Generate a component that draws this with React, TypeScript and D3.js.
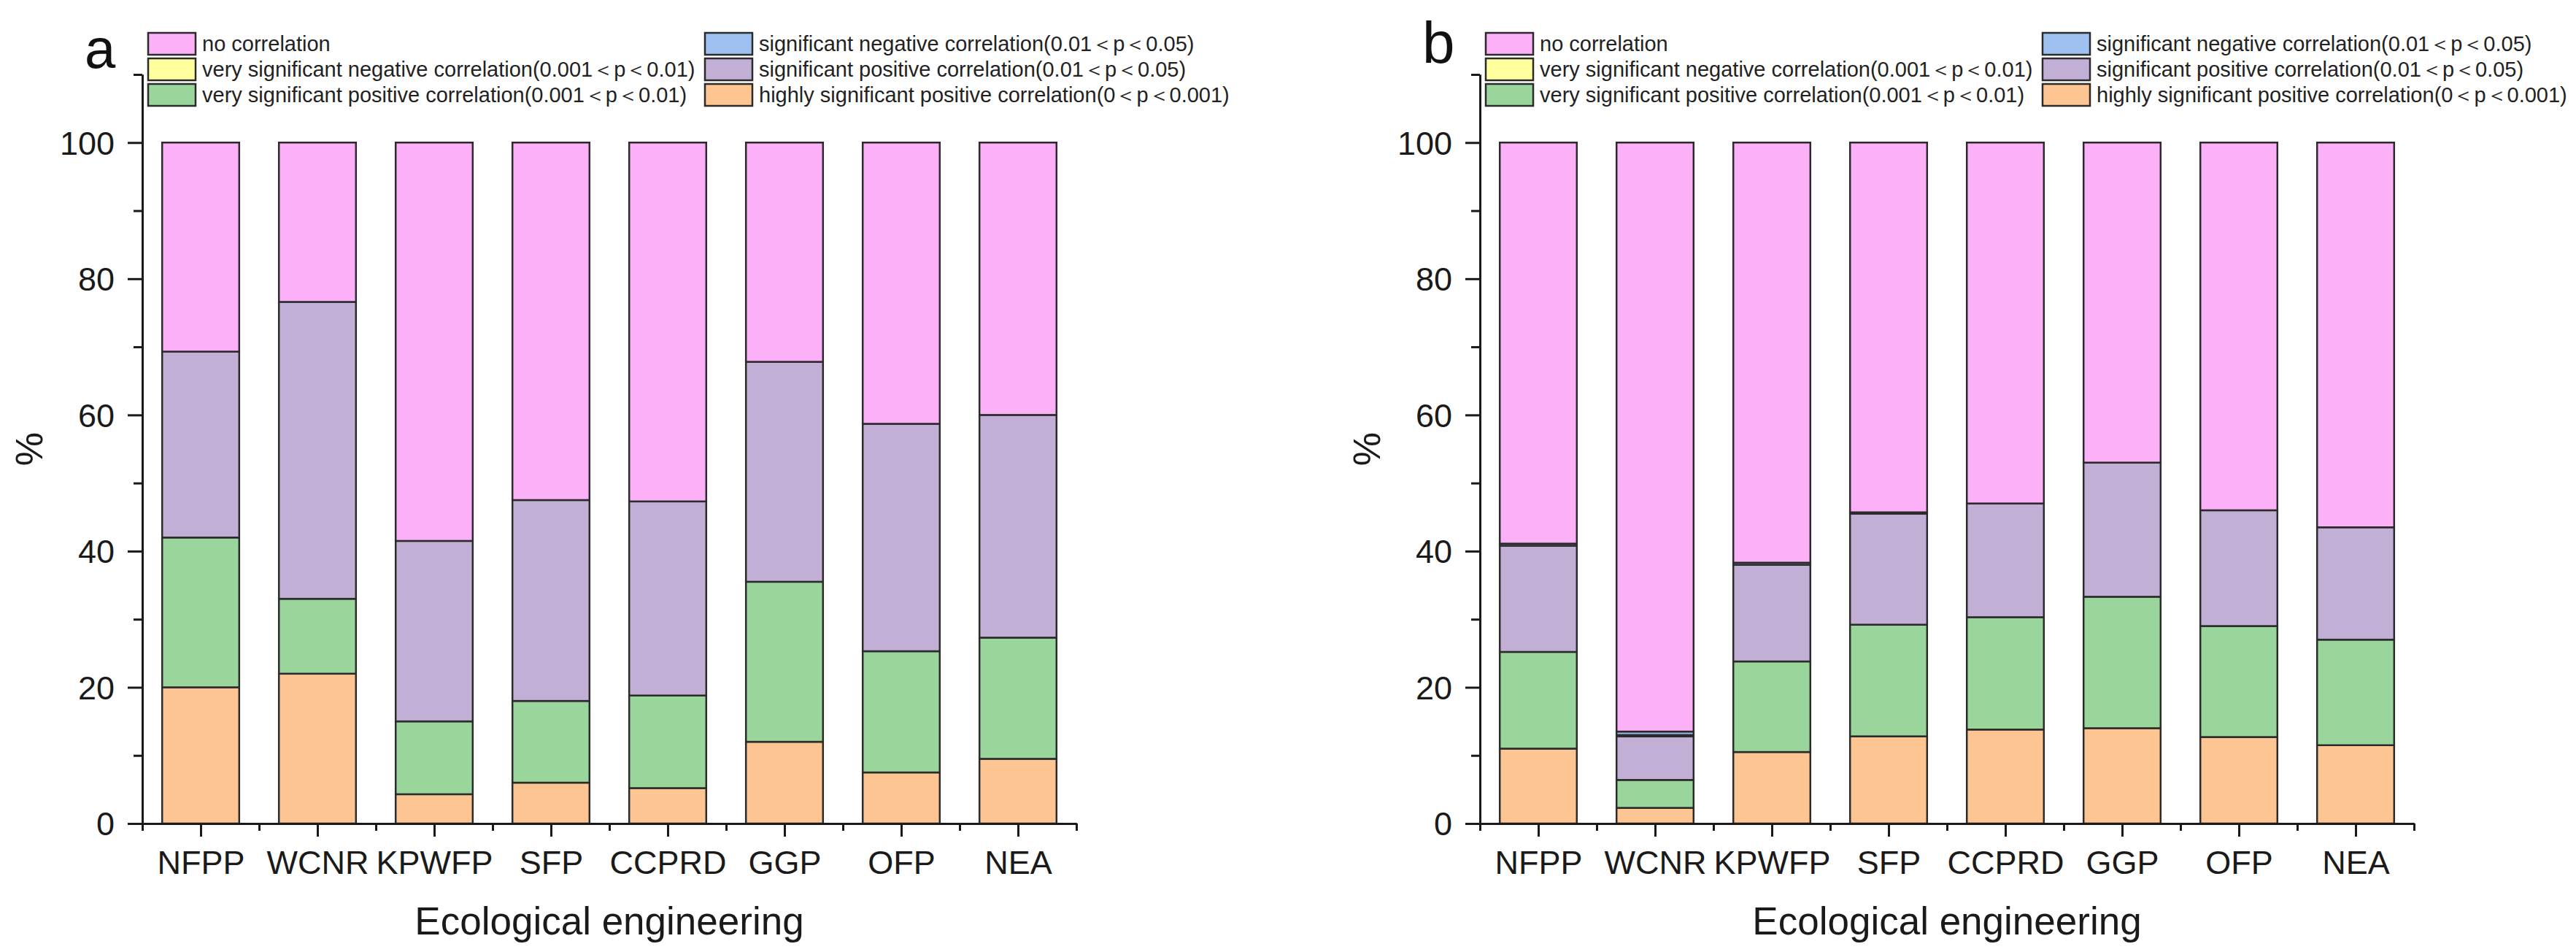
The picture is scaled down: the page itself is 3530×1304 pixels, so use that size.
import React, { useEffect, useRef } from 'react';
import * as d3 from 'd3';

const categories = ['NFPP', 'WCNR', 'KPWFP', 'SFP', 'CCPRD', 'GGP', 'OFP', 'NEA'];

// stacking order, bottom to top
const keys = ['hsp', 'vsp', 'sp', 'vsn', 'sn', 'nc'];

const colors: Record<string, string> = {
  nc: '#FBB0F8',
  vsn: '#FFFF9E',
  vsp: '#9AD69B',
  sn: '#9FC1F2',
  sp: '#C1AFD5',
  hsp: '#FDC592',
};

const legendCol1 = ['nc', 'vsn', 'vsp'];
const legendCol2 = ['sn', 'sp', 'hsp'];
const legendLabels: Record<string, string> = {
  nc: 'no correlation',
  vsn: 'very significant negative correlation(0.001＜p＜0.01)',
  vsp: 'very significant positive correlation(0.001＜p＜0.01)',
  sn: 'significant negative correlation(0.01＜p＜0.05)',
  sp: 'significant positive correlation(0.01＜p＜0.05)',
  hsp: 'highly significant positive correlation(0＜p＜0.001)',
};

const yMajorTicks = [0, 20, 40, 60, 80, 100];
const yMinorTicks = [10, 30, 50, 70, 90, 110];

// panel a (% of area per class)
const aHsp = [20, 22, 4.3, 6, 5.2, 12, 7.5, 9.5];
const aVsp = [22, 11, 10.7, 12, 13.6, 23.5, 17.8, 17.8];
const aSp = [27.3, 43.6, 26.5, 29.5, 28.5, 32.3, 33.4, 32.7];
const aVsn = [0, 0, 0, 0, 0, 0, 0, 0];
const aSn = [0, 0, 0, 0, 0, 0, 0, 0];
const aNc = [30.7, 23.4, 58.5, 52.5, 52.7, 32.2, 41.3, 40];

// panel b
const bHsp = [11, 2.3, 10.5, 12.8, 13.8, 14, 12.7, 11.5];
const bVsp = [14.2, 4.1, 13.3, 16.4, 16.5, 19.3, 16.3, 15.5];
const bSp = [15.6, 6.4, 14.2, 16.3, 16.7, 19.7, 17, 16.5];
const bVsn = [0, 0.2, 0, 0, 0, 0, 0, 0];
const bSn = [0.3, 0.5, 0.3, 0.2, 0, 0, 0, 0];
const bNc = [58.9, 86.5, 61.7, 54.3, 53, 47, 54, 56.5];

const font = '"Liberation Sans", Arial, Helvetica, sans-serif';

const buildRows = (hsp: number[], vsp: number[], sp: number[], vsn: number[], sn: number[], nc: number[]) =>
  categories.map((c, i) => ({ cat: c, hsp: hsp[i], vsp: vsp[i], sp: sp[i], vsn: vsn[i], sn: sn[i], nc: nc[i] }));

const panelA = buildRows(aHsp, aVsp, aSp, aVsn, aSn, aNc);
const panelB = buildRows(bHsp, bVsp, bSp, bVsn, bSn, bNc);

const App: React.FC = () => {
  const svgRef = useRef<SVGSVGElement>(null);

  useEffect(() => {
    document.body.style.margin = '0';
    if (!svgRef.current) return;
    const svg = d3.select(svgRef.current);
    svg.selectAll('*').remove();

    const drawPanel = (offsetX: number, tag: string, tagSize: number, tagY: number, rows: any[]) => {
      const g = svg.append('g').attr('transform', `translate(${offsetX},0)`);

      const x = d3.scaleLinear().domain([0.5, 8.5]).range([195, 1475]);
      const y = d3.scaleLinear().domain([0, 110]).range([1128, 102]);
      const bw = (x(2) - x(1)) * 0.66;

      const stacked = d3.stack<any>().keys(keys)(rows);

      stacked.forEach(layer => {
        g.append('g')
          .selectAll('rect')
          .data(layer.filter(d => d[1] - d[0] > 0))
          .join('rect')
          .attr('x', d => x(categories.indexOf(d.data.cat) + 1) - bw / 2)
          .attr('y', d => y(d[1]))
          .attr('width', bw)
          .attr('height', d => y(d[0]) - y(d[1]))
          .attr('fill', colors[layer.key])
          .attr('stroke', '#2b2b2b')
          .attr('stroke-width', 2.5);
      });

      // y axis
      const yMaj = g.append('g')
        .attr('transform', `translate(${x(0.5)},0)`)
        .call(d3.axisLeft(y).tickValues(yMajorTicks).tickSize(20).tickPadding(18).tickSizeOuter(0));
      g.append('g')
        .attr('transform', `translate(${x(0.5)},0)`)
        .call(d3.axisLeft(y).tickValues(yMinorTicks).tickSize(12).tickFormat(() => '').tickSizeOuter(0));

      // x axis
      g.append('g')
        .attr('transform', `translate(0,${y(0)})`)
        .call(d3.axisBottom(x).tickValues(d3.range(1, 9)).tickFormat(d => categories[(d as number) - 1]).tickSize(18).tickPadding(19).tickSizeOuter(0));
      g.append('g')
        .attr('transform', `translate(0,${y(0)})`)
        .call(d3.axisBottom(x).tickValues(d3.range(0.5, 9, 1)).tickSize(10).tickFormat(() => '').tickSizeOuter(0));

      g.selectAll('.domain, .tick line').attr('stroke', '#1a1a1a').attr('stroke-width', 3);
      g.selectAll('.tick text')
        .attr('font-size', 45)
        .attr('font-family', font)
        .attr('fill', '#1a1a1a');
      yMaj.selectAll('.tick text').attr('dy', '0.35em');

      // axis titles
      g.append('text')
        .attr('x', (x(0.5) + x(8.5)) / 2)
        .attr('y', 1280)
        .attr('text-anchor', 'middle')
        .attr('font-size', 53)
        .attr('font-family', font)
        .attr('fill', '#1a1a1a')
        .text('Ecological engineering');

      g.append('text')
        .attr('transform', `translate(58,${(y(0) + y(110)) / 2}) rotate(-90)`)
        .attr('text-anchor', 'middle')
        .attr('font-size', 52)
        .attr('font-family', font)
        .attr('fill', '#1a1a1a')
        .text('%');

      // panel tag
      g.append('text')
        .attr('x', 116)
        .attr('y', tagY)
        .attr('font-size', tagSize)
        .attr('font-family', font)
        .attr('fill', '#111')
        .text(tag);

      // legend
      const boxW = 65;
      const boxH = 30;
      const rowStep = 35;
      const legendTop = 45;
      [legendCol1, legendCol2].forEach((col, ci) => {
        const bx = ci === 0 ? 203 : 966;
        col.forEach((k, ri) => {
          const by = legendTop + ri * rowStep;
          g.append('rect')
            .attr('x', bx)
            .attr('y', by)
            .attr('width', boxW)
            .attr('height', boxH)
            .attr('fill', colors[k])
            .attr('stroke', '#2b2b2b')
            .attr('stroke-width', 2.5);
          g.append('text')
            .attr('x', bx + boxW + 9)
            .attr('y', by + boxH / 2)
            .attr('dy', '0.35em')
            .attr('font-size', 29)
            .attr('font-family', font)
            .attr('fill', '#222')
            .text(legendLabels[k]);
        });
      });
    };

    drawPanel(0, 'a', 76, 93, panelA);
    drawPanel(1833, 'b', 80, 86, panelB);
  }, []);

  return <svg ref={svgRef} width={3530} height={1304} style={{ display: 'block', background: '#fff' }} />;
};

export default App;
